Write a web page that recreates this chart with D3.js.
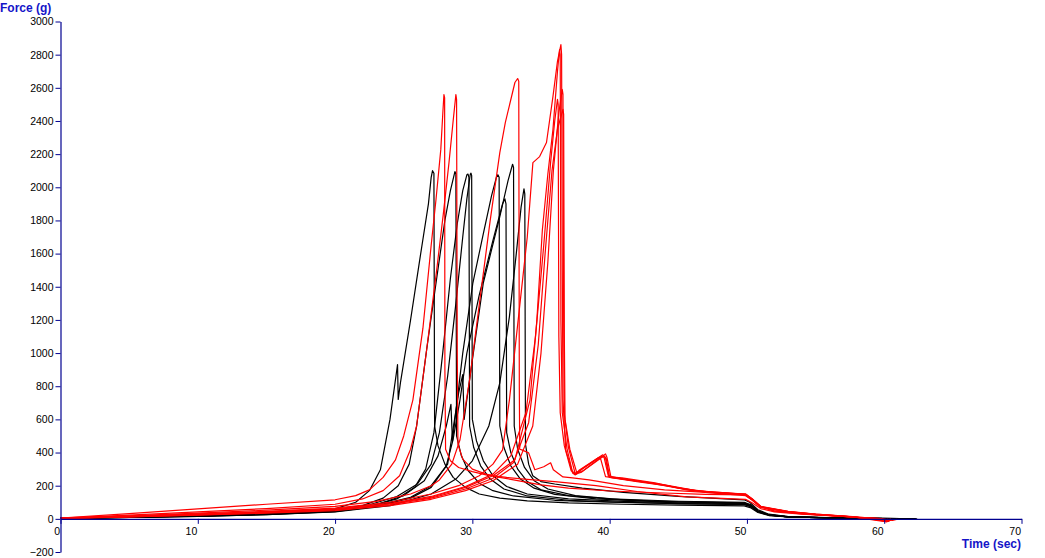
<!DOCTYPE html>
<html>
<head>
<meta charset="utf-8">
<script src="https://cdn.jsdelivr.net/npm/d3@7"></script>
<style>
  html, body { margin: 0; padding: 0; background: #fff; }
  svg { display: block; }
  .tick text { font-family: "Liberation Sans", Arial, sans-serif; font-size: 10.5px; fill: #000; }
</style>
</head>
<body>
<svg id="chart" width="1045" height="558"></svg>
<script>
// ---- Data (time in sec, force in g) ----
const timeTicks = [0, 10, 20, 30, 40, 50, 60, 70];
const forceTicks = [-200, 0, 200, 400, 600, 800, 1000, 1200, 1400, 1600, 1800, 2000, 2200, 2400, 2600, 2800, 3000];
const xLabel = "Time (sec)";
const yLabel = "Force (g)";

const black1 = [[0,4],[5,12],[10,22],[15,35],[20,60],[21.5,100],[22.5,170],[23.3,296],[24.0,600],[24.55,930],[24.6,720],[24.76,820],[25.5,1200],[26.2,1580],[26.8,1900],[27.0,2060],[27.1,2100],[27.2,2085],[27.25,560],[27.5,440],[28.0,330],[28.6,250],[29.5,190],[30.5,150],[32,125],[34,108],[37,96],[41,88],[45,83],[49.8,78],[50.3,66],[50.8,38],[51.6,20],[53,11],[56,6],[60,3],[62.4,0]];
const black2 = [[0,3],[5,10],[10,18],[15,30],[20,52],[22,80],[23.5,125],[24.6,200],[25.4,330],[25.94,560],[26.67,1020],[27.4,1450],[28.0,1800],[28.4,1980],[28.73,2095],[28.8,2080],[28.85,500],[29.2,380],[29.7,290],[30.5,215],[31.5,170],[33,138],[36,112],[40,100],[45,92],[49.8,86],[50.3,73],[50.8,42],[51.6,22],[53,12],[56,6],[60,2],[62,0]];
const black3 = [[0,3],[5,9],[10,16],[15,27],[20,45],[22.5,75],[24.5,120],[25.8,190],[26.6,300],[27.2,520],[27.84,1000],[28.4,1450],[28.9,1780],[29.3,1980],[29.6,2075],[29.68,2080],[29.75,2060],[29.8,560],[30.1,430],[30.6,320],[31.3,240],[32.3,180],[34,138],[37,112],[41,100],[45,92],[49.8,88],[50.3,74],[50.8,44],[51.6,23],[53,12],[56,6],[60,2],[62,0]];
const black4 = [[0,4],[5,11],[10,20],[15,32],[20,55],[22.5,85],[24.5,135],[26,210],[27,330],[27.6,520],[28.2,860],[28.8,1300],[29.3,1700],[29.6,1930],[29.85,2080],[29.9,2085],[29.95,2070],[30.0,600],[30.3,470],[30.8,350],[31.5,260],[32.5,195],[34,150],[37,120],[41,105],[45,97],[49.8,92],[50.3,78],[50.8,46],[51.6,24],[53,12],[56,6],[60,2],[62,0]];
const black5 = [[0,3],[5,9],[10,17],[15,28],[20,48],[23,85],[25,140],[26.5,230],[27.5,380],[28.1,560],[28.44,690],[28.55,470],[29.3,1000],[30.04,1424],[30.8,1720],[31.4,1950],[31.75,2060],[31.86,2076],[31.95,2060],[32.0,560],[32.3,430],[32.8,320],[33.5,240],[34.5,185],[36,148],[39,120],[43,105],[49.8,95],[50.3,80],[50.8,46],[51.6,24],[53,12],[56,6],[60,2],[62.2,0]];
const black6 = [[0,2],[5,8],[10,15],[15,26],[20,44],[23,75],[25.5,125],[27,190],[28.2,330],[29.0,760],[29.3,870],[29.4,600],[29.9,900],[30.8,1424],[32.0,1823],[32.6,2040],[32.93,2139],[33.0,2120],[33.05,560],[33.3,420],[33.8,310],[34.5,230],[35.5,180],[37.5,140],[41,115],[45,102],[49.8,96],[50.3,80],[50.8,47],[51.6,24],[53,12],[56,6],[60,2],[62.3,0]];
const black7 = [[0,3],[5,10],[10,18],[15,29],[20,48],[23,80],[25.5,130],[27,200],[28.1,320],[28.6,480],[29.1,718],[29.6,1000],[30.5,1350],[31.5,1680],[32.2,1900],[32.37,1930],[32.45,1900],[32.5,520],[32.8,400],[33.3,300],[34,225],[35,175],[37,140],[40,120],[45,106],[49.8,100],[50.3,84],[50.8,48],[51.6,25],[53,13],[56,6],[60,2],[62.3,0]];
const black8 = [[0,3],[5,8],[10,15],[15,25],[20,42],[24,80],[27,150],[28.8,240],[30,350],[31.2,560],[32.0,820],[32.7,1220],[33.2,1600],[33.55,1880],[33.76,1990],[33.82,1960],[33.87,450],[34.1,330],[34.4,260],[35,225],[36,210],[38,185],[41,160],[45,135],[49.8,115],[50.2,100],[50.8,55],[51.6,28],[53,14],[56,7],[60,3],[62.2,0]];

const red1 = [[0,5],[5,32],[10,60],[15,88],[20,115],[21.5,140],[22.5,175],[23.5,250],[24.4,356],[25.0,500],[25.67,718],[26.4,1150],[27.0,1650],[27.35,1925],[27.7,2227],[27.85,2450],[27.93,2559],[27.98,2540],[28.0,900],[28.05,420],[28.4,350],[29,310],[30,285],[31,265],[32.5,250],[34,238],[36,225],[39,200],[42,165],[45.6,133],[49.9,118],[50.4,95],[51,62],[52,42],[54,28],[57,14],[59.5,2],[60.3,-15],[60.5,-5]];
const red2 = [[0,4],[5,22],[10,42],[15,62],[20,88],[22,120],[23.5,170],[24.7,260],[25.5,420],[25.94,560],[26.67,1020],[27.4,1500],[27.9,1850],[28.3,2150],[28.6,2400],[28.8,2559],[28.85,2530],[28.9,1000],[28.95,450],[29.3,360],[30,300],[31,270],[32,250],[33.5,228],[35,205],[37,185],[40,168],[44,156],[47,148],[49.9,144],[50.4,112],[51,72],[52,46],[54,30],[57,15],[59.5,3],[60.3,-12],[60.6,-4]];
const red3 = [[0,3],[5,18],[10,35],[15,52],[20,75],[23,105],[25.5,150],[27.0,200],[27.6,235],[28.5,330],[29.1,477],[29.8,839],[30.55,1322],[31.3,1800],[32.0,2209],[32.4,2390],[33.1,2632],[33.3,2656],[33.38,2640],[33.42,800],[33.45,420],[33.6,416],[34.1,398],[34.55,296],[35.2,314],[35.7,338],[35.9,296],[36.6,253],[37.3,247],[38.5,235],[41,200],[44,175],[47,160],[49.9,150],[50.4,118],[51,75],[52,48],[54,32],[57,15],[59.8,2],[60.6,-10],[60.9,-3]];
const red4 = [[0,3],[5,15],[10,30],[15,45],[20,65],[24,100],[27,150],[29,200],[30.5,260],[31.5,330],[32.2,416],[32.7,718],[33.5,1322],[34.0,1700],[34.41,2149],[34.9,2185],[35.4,2270],[35.87,2547],[36.2,2760],[36.45,2860],[36.5,2800],[36.55,1500],[36.6,718],[36.8,416],[37.3,277],[37.5,265],[37.8,295],[39.5,386],[39.7,368],[39.95,253],[40.9,247],[43.3,217],[45.6,175],[47.1,163],[49.9,145],[50.4,115],[51,72],[52.9,42],[55,28],[57.7,12],[60.2,-18],[60.5,-5]];
const red5 = [[0,3],[5,13],[10,26],[15,40],[20,58],[24,90],[27,130],[29.5,190],[31.5,260],[33.1,356],[34.2,718],[34.7,1200],[35.1,1744],[35.5,2080],[35.87,2348],[36.2,2700],[36.35,2830],[36.4,2800],[36.45,1200],[36.55,640],[36.9,420],[37.3,280],[37.6,270],[38,300],[39.4,378],[39.6,370],[39.9,260],[41,240],[43.5,210],[46,172],[49.9,148],[50.4,118],[51,74],[53,44],[55,27],[57.7,12],[60.3,-12],[60.6,-3]];
const red6 = [[0,2],[5,11],[10,22],[15,34],[20,50],[24,80],[27,118],[29.5,170],[31.5,230],[33.3,330],[34.4,560],[35.0,1000],[35.5,1550],[35.9,2100],[36.3,2450],[36.55,2590],[36.6,2560],[36.65,1200],[36.7,630],[37.0,430],[37.5,270],[37.9,280],[39.7,392],[39.8,372],[40.1,250],[41.5,235],[44,205],[46.5,168],[49.9,150],[50.4,120],[51,76],[53,45],[55,28],[57.7,13],[60.1,-14],[60.4,-4]];
const red7 = [[0,3],[5,14],[10,28],[15,42],[20,60],[24,92],[27,135],[29.5,195],[31.5,270],[32.8,380],[33.9,640],[34.6,1100],[35.2,1650],[35.7,2150],[36.0,2400],[36.2,2530],[36.25,2500],[36.3,1100],[36.4,640],[36.7,440],[37.2,290],[37.5,275],[37.8,290],[39.2,370],[39.35,360],[39.7,255],[41,240],[43,215],[45,185],[47.5,160],[49.9,146],[50.4,116],[51,73],[53,43],[55,27],[57.7,12],[60.0,-10],[60.3,-2]];
const red8 = [[0,2],[5,12],[10,24],[15,37],[20,54],[24,85],[27,125],[29.5,180],[31.5,245],[33.0,340],[34.1,580],[34.8,1050],[35.3,1600],[35.8,2100],[36.2,2350],[36.6,2470],[36.65,2440],[36.7,1100],[36.75,600],[37.1,420],[37.6,280],[38,285],[39.6,380],[39.75,365],[40.0,250],[42,225],[44.5,195],[47,160],[49.9,140],[50.4,112],[51,70],[53,42],[55,26],[57.7,11],[60.2,-8],[60.5,-2]];

const blackSeries = [black1, black2, black3, black4, black5, black6, black7, black8];
const redSeries = [red1, red2, red3, red4, red5, red6, red7, red8];

// ---- Layout ----
const svg = d3.select("#chart");
const axisColor = "#000090";
const labelColor = "#1414c8";

const x = d3.scaleLinear().domain([0, 70]).range([60.5, 1021.5]);
const y = d3.scaleLinear().domain([-200, 3000]).range([552, 21.5]);

const line = d3.line().x(d => x(d[0])).y(d => y(d[1]));

const gLines = svg.append("g");
gLines.selectAll("path.black").data(blackSeries).join("path")
  .attr("class", "black")
  .attr("d", line)
  .attr("fill", "none")
  .attr("stroke", "#000")
  .attr("stroke-width", 1.2)
  .attr("stroke-linejoin", "round");
gLines.selectAll("path.red").data(redSeries).join("path")
  .attr("class", "red")
  .attr("d", line)
  .attr("fill", "none")
  .attr("stroke", "#ff0000")
  .attr("stroke-width", 1.2)
  .attr("stroke-linejoin", "round");

// Y axis
const yAxis = d3.axisLeft(y).tickValues(forceTicks).tickSize(5).tickSizeOuter(0).tickPadding(2).tickFormat(d3.format("d"));
const gy = svg.append("g").attr("transform", `translate(${x(0)},0)`).call(yAxis);
gy.select(".domain").attr("stroke", axisColor).attr("stroke-width", 1.2);
gy.selectAll(".tick line").attr("stroke", axisColor);

// X axis
const xAxis = d3.axisBottom(x).tickValues(timeTicks).tickSize(5).tickSizeOuter(0).tickFormat(d3.format("d"));
const gx = svg.append("g").attr("transform", `translate(0,${y(0)})`).call(xAxis);
gx.select(".domain").attr("stroke", axisColor).attr("stroke-width", 1.2);
gx.selectAll(".tick line").attr("stroke", axisColor);
gx.selectAll(".tick text").attr("text-anchor", "end").attr("x", -1).attr("y", 16).attr("dy", null);

// Axis titles
svg.append("text").attr("x", 0).attr("y", 12)
  .attr("font-family", "Liberation Sans, Arial, sans-serif").attr("font-size", 12).attr("font-weight", "bold")
  .attr("fill", labelColor).text(yLabel);
svg.append("text").attr("x", 1021).attr("y", 548).attr("text-anchor", "end")
  .attr("font-family", "Liberation Sans, Arial, sans-serif").attr("font-size", 12).attr("font-weight", "bold")
  .attr("fill", labelColor).text(xLabel);
</script>
</body>
</html>
